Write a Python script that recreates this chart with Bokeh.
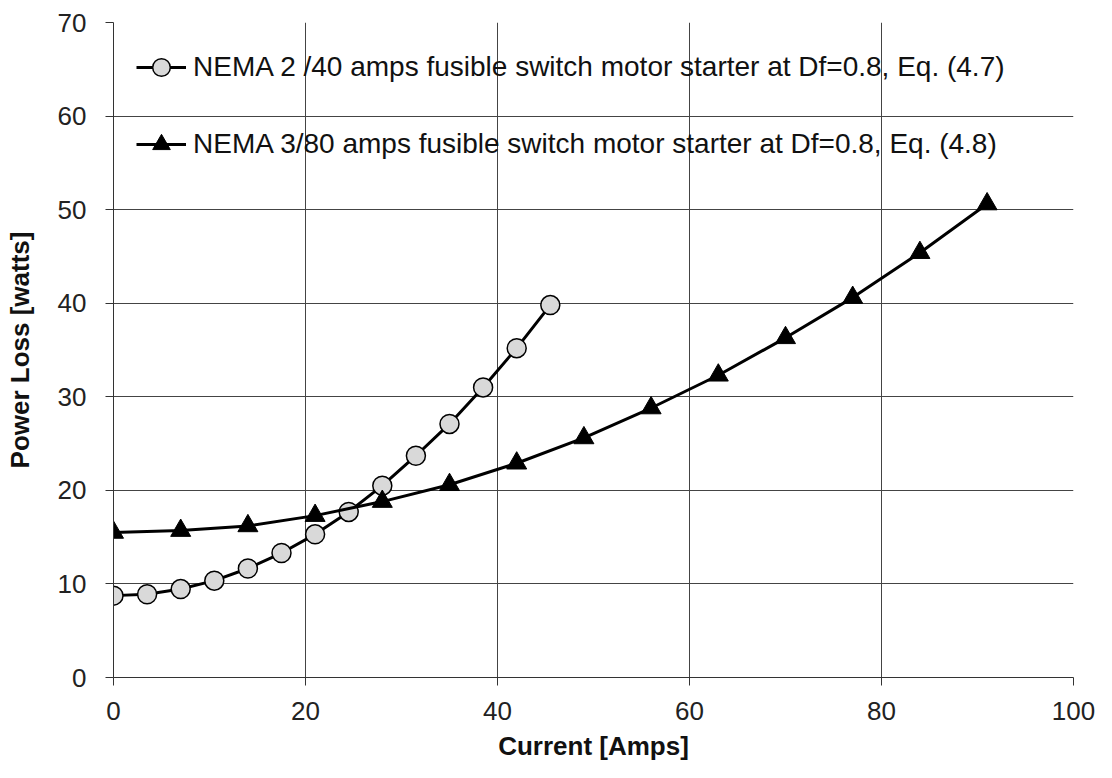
from bokeh.plotting import figure
from bokeh.models import Range1d, FixedTicker, Legend, LegendItem
from bokeh.embed import file_html
from bokeh.resources import INLINE

# Data
nema2_current = [0, 3.5, 7, 10.5, 14, 17.5, 21, 24.5, 28, 31.5, 35, 38.5, 42, 45.5]
nema2_loss = [8.75, 8.9, 9.45, 10.35, 11.65, 13.3, 15.3, 17.7, 20.5, 23.7, 27.1, 31.0, 35.2, 39.8]

nema3_current = [0, 7, 14, 21, 28, 35, 42, 49, 56, 63, 70, 77, 84, 91]
nema3_loss = [15.5, 15.7, 16.2, 17.3, 18.8, 20.6, 22.9, 25.6, 28.8, 32.3, 36.3, 40.6, 45.4, 50.6]

x_ticks = [0, 20, 40, 60, 80, 100]
y_ticks = [0, 10, 20, 30, 40, 50, 60, 70]

label_nema2 = "NEMA 2 /40 amps fusible switch motor starter at Df=0.8, Eq. (4.7)"
label_nema3 = "NEMA 3/80 amps fusible switch motor starter at Df=0.8, Eq. (4.8)"

FONT = "Liberation Sans"

p = figure(width=1096, height=770, output_backend="svg", toolbar_location=None,
           x_range=Range1d(0, 100), y_range=Range1d(0, 70),
           min_border_left=113, min_border_right=23, min_border_top=22, min_border_bottom=93)
p.outline_line_color = None
p.background_fill_color = "white"
p.border_fill_color = "white"

p.xaxis.ticker = FixedTicker(ticks=x_ticks)
p.yaxis.ticker = FixedTicker(ticks=y_ticks)
for ax in (p.xaxis[0], p.yaxis[0]):
    ax.axis_line_color = "#333333"
    ax.axis_line_width = 1
    ax.major_tick_line_color = "#333333"
    ax.major_tick_out = 8
    ax.major_tick_in = 0
    ax.minor_tick_line_color = None
    ax.major_label_text_font = FONT
    ax.major_label_text_font_size = "26px"
    ax.major_label_text_color = "#222222"
    ax.axis_label_text_font = FONT
    ax.axis_label_text_font_size = "26px"
    ax.axis_label_text_font_style = "bold"
    ax.axis_label_text_color = "#111111"

p.xaxis.axis_label = "Current [Amps]"
p.yaxis.axis_label = "Power Loss [watts]"
p.xaxis.major_label_standoff = 16
p.yaxis.major_label_standoff = 19
p.xaxis.axis_label_standoff = 8
p.yaxis.axis_label_standoff = 20

p.xgrid.grid_line_color = "#444444"
p.ygrid.grid_line_color = "#444444"
p.xgrid.grid_line_width = 1
p.ygrid.grid_line_width = 1

l2 = p.line(nema2_current, nema2_loss, line_color="black", line_width=3)
s2 = p.scatter(nema2_current, nema2_loss, marker="circle", size=19,
               fill_color="#d9d9d9", line_color="black", line_width=1.5)
l3 = p.line(nema3_current, nema3_loss, line_color="black", line_width=3)
s3 = p.scatter(nema3_current, nema3_loss, marker="triangle", size=20,
               fill_color="black", line_color="black", line_width=1)

legend = Legend(items=[LegendItem(label=label_nema2, renderers=[l2, s2]),
                       LegendItem(label=label_nema3, renderers=[l3, s3])],
                location="top_left", margin=23, padding=0, spacing=33,
                label_height=44, glyph_height=44, glyph_width=50, label_standoff=7,
                label_text_font=FONT, label_text_font_size="28px", label_text_color="#111111",
                background_fill_alpha=0, border_line_color=None)
p.add_layout(legend)

open("out.html", "w").write(file_html(p, INLINE))
